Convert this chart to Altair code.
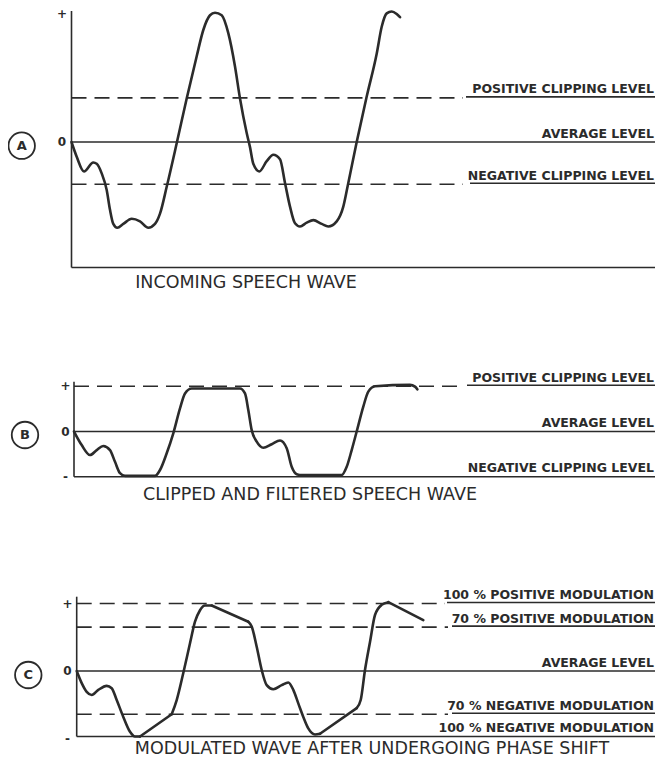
import altair as alt
import pandas as pd

# ---------------- data: time (t) and amplitude relative to the average level ----------------
# Panel A - incoming speech wave
a_t = [-0.25, 0.27, 1.0, 1.93, 2.27, 2.77, 3.27, 3.6, 3.93, 4.33, 4.93, 5.77, 6.6, 7.43, 8.1, 8.6,
       9.27, 10.27, 11.27, 12.27, 12.93, 13.6, 14.1, 14.77, 15.43, 16.1, 16.6, 17.27, 17.6, 17.93,
       18.53, 19.27, 19.93, 20.6, 21.1, 21.6, 22.1, 22.6, 23.27, 23.93, 24.77, 25.43, 26.27, 26.93,
       27.43, 28.27, 29.27, 30.27, 30.77, 31.27, 31.77, 32.27, 32.6]
a_amp = [0.0, -0.115, -0.23, -0.16, -0.17, -0.245, -0.375, -0.53, -0.64, -0.67, -0.64, -0.60, -0.62,
         -0.67, -0.64, -0.56, -0.35, -0.01, 0.34, 0.67, 0.875, 0.99, 1.01, 0.99, 0.85, 0.59, 0.34,
         0.07, -0.04, -0.17, -0.23, -0.15, -0.10, -0.135, -0.32, -0.505, -0.635, -0.66, -0.63,
         -0.61, -0.64, -0.66, -0.62, -0.505, -0.32, 0.0, 0.355, 0.69, 0.90, 1.005, 1.02, 1.0, 0.975]
a_straight = []

# Panel B - clipped and filtered speech wave
b_t = [0.0, 0.77, 1.6, 2.27, 2.93, 3.6, 4.1, 4.6, 5.1, 8.1, 8.6, 9.27, 9.93, 10.6, 11.1, 11.77,
       16.6, 17.1, 17.43, 17.77, 18.27, 18.93, 19.77, 20.6, 21.27, 21.77, 22.27, 22.6, 26.77,
       27.27, 27.77, 28.27, 28.93, 29.43, 30.1, 33.6, 34.1, 34.33]
b_amp = [0.0, -0.30, -0.52, -0.41, -0.32, -0.41, -0.67, -0.92, -0.98, -0.98, -0.85, -0.48, -0.04,
         0.51, 0.84, 0.95, 0.95, 0.84, 0.475, 0.03, -0.225, -0.36, -0.28, -0.20, -0.37, -0.78,
         -0.945, -0.96, -0.96, -0.78, -0.41, 0.0, 0.55, 0.88, 1.0, 1.03, 0.99, 0.93]
b_straight = []

# Panel C - modulated wave after undergoing phase shift
c_t = [0.27, 0.77, 1.27, 1.77, 2.43, 3.27, 3.77, 4.27, 4.93, 5.6, 6.1, 6.6, 9.77, 10.27, 10.93,
       11.6, 12.1, 12.6, 13.1, 13.77, 17.43, 17.77, 18.27, 18.77, 19.27, 19.93, 20.77, 21.43,
       21.93, 22.43, 22.93, 23.43, 24.1, 24.6, 28.27, 28.67, 29.1, 29.6, 30.1, 30.77, 31.43, 34.93]
c_amp = [0.0, -0.18, -0.31, -0.355, -0.28, -0.22, -0.255, -0.43, -0.68, -0.90, -0.97, -0.97, -0.64,
         -0.43, -0.03, 0.41, 0.73, 0.90, 0.97, 0.97, 0.73, 0.66, 0.36, 0.015, -0.21, -0.27, -0.21,
         -0.17, -0.28, -0.48, -0.68, -0.85, -0.94, -0.93, -0.55, -0.43, 0.015, 0.43, 0.83, 0.98,
         1.02, 0.755]
# indices i where the stretch from point i to point i+1 is a straight line
c_straight = [11, 19, 33, 40]

# reference levels
a_levels = [0.345, 0.0, -0.33, -0.98]
a_level_labels = ["POSITIVE CLIPPING LEVEL", "AVERAGE LEVEL", "NEGATIVE CLIPPING LEVEL", ""]
a_level_dashed = [True, False, True, False]

b_levels = [1.0, 0.0, -1.0]
b_level_labels = ["POSITIVE CLIPPING LEVEL", "AVERAGE LEVEL", "NEGATIVE CLIPPING LEVEL"]
b_level_dashed = [True, False, False]

c_levels = [1.0, 0.65, 0.0, -0.64, -0.97]
c_level_labels = ["100 % POSITIVE MODULATION", "70 % POSITIVE MODULATION", "AVERAGE LEVEL",
                  "70 % NEGATIVE MODULATION", "100 % NEGATIVE MODULATION"]
c_level_dashed = [True, True, False, True, False]

panel_letters = ["A", "B", "C"]
panel_titles = ["INCOMING SPEECH WAVE", "CLIPPED AND FILTERED SPEECH WAVE",
                "MODULATED WAVE AFTER UNDERGOING PHASE SHIFT"]
a_signs = ["+", "0"]
a_sign_amps = [1.0, 0.0]
bc_signs = ["+", "0", "-"]
bc_sign_amps = [1.0, 0.0, -1.0]

# ---------------- layout (page pixels) ----------------
W, H = 649, 751
X_T0, PX_PER_T = 74.0, 10.0
LINE_END = 655.0
TEXT_RIGHT = 654.0
INK = "#2b2b2b"
FONT = "DejaVu Sans"

LAYOUT = {
    "A": dict(zero=142.0, unit=128.0, axis_x=71.5, axis_top=11.0, axis_bottom=267.5,
              sign_x=62.0, circle=(21.7, 145.7), title=(246.0, 288.0),
              dash_end=[463, None, 463, None], text_start=[466, None, 470, None]),
    "B": dict(zero=431.5, unit=45.3, axis_x=74.0, axis_top=381.7, axis_bottom=476.8,
              sign_x=65.5, circle=(25.0, 435.0), title=(310.0, 500.0),
              dash_end=[462, None, None], text_start=[467, None, None]),
    "C": dict(zero=671.0, unit=67.5, axis_x=76.7, axis_top=596.7, axis_bottom=736.5,
              sign_x=67.5, circle=(28.3, 675.0), title=(372.0, 754.0),
              dash_end=[445, 448, None, 448, None], text_start=[447, 452, None, 452, None]),
}

def px(t):
    return X_T0 + PX_PER_T * t

def py(panel, amp):
    L = LAYOUT[panel]
    return L["zero"] - L["unit"] * amp

# ---------------- build tables ----------------
curve_rows, straight_rows = [], []
for panel, ts, amps, straight in [("A", a_t, a_amp, a_straight), ("B", b_t, b_amp, b_straight),
                                  ("C", c_t, c_amp, c_straight)]:
    seg = 0
    for i, (t, a) in enumerate(zip(ts, amps)):
        curve_rows.append(dict(seg=f"{panel}{seg}", i=i, x=px(t), y=py(panel, a)))
        if i in straight:
            seg += 1
            # the straight stretch i -> i+1
            straight_rows.append(dict(seg=f"{panel}s{i}", i=0, x=px(t), y=py(panel, a)))
            straight_rows.append(dict(seg=f"{panel}s{i}", i=1, x=px(ts[i + 1]),
                                      y=py(panel, amps[i + 1])))
# drop single-point curve runs
curves = pd.DataFrame(curve_rows)
counts = curves.groupby("seg")["i"].transform("count")
curves = curves[counts > 1]
straights = pd.DataFrame(straight_rows)

solid_rows, dash_rows, label_rows, sign_rows = [], [], [], []
for panel, levels, labels, dashed in [("A", a_levels, a_level_labels, a_level_dashed),
                                      ("B", b_levels, b_level_labels, b_level_dashed),
                                      ("C", c_levels, c_level_labels, c_level_dashed)]:
    L = LAYOUT[panel]
    for k, (lv, lab, d) in enumerate(zip(levels, labels, dashed)):
        yy = py(panel, lv)
        if d:
            dash_rows.append(dict(x=L["axis_x"], x2=L["dash_end"][k], y=yy))
            solid_rows.append(dict(x=L["text_start"][k], x2=LINE_END, y=yy - 1, y2=yy - 1))
        else:
            solid_rows.append(dict(x=L["axis_x"], x2=LINE_END, y=yy, y2=yy))
        if lab:
            label_rows.append(dict(x=TEXT_RIGHT, y=yy - 4.5, text=lab))
    solid_rows.append(dict(x=L["axis_x"], x2=L["axis_x"], y=L["axis_top"], y2=L["axis_bottom"]))
    signs, samps = (a_signs, a_sign_amps) if panel == "A" else (bc_signs, bc_sign_amps)
    for s, sa in zip(signs, samps):
        sign_rows.append(dict(x=L["sign_x"], y=py(panel, sa), text=s))

solid = pd.DataFrame(solid_rows)
dashes = pd.DataFrame(dash_rows)
labels_df = pd.DataFrame(label_rows)
signs_df = pd.DataFrame(sign_rows)
circles_df = pd.DataFrame([dict(x=LAYOUT[p]["circle"][0], y=LAYOUT[p]["circle"][1], text=p)
                           for p in panel_letters])
titles_df = pd.DataFrame([dict(x=LAYOUT[p]["title"][0], y=LAYOUT[p]["title"][1], text=t)
                          for p, t in zip(panel_letters, panel_titles)])

# ---------------- chart ----------------
xs = alt.Scale(domain=[8, 8 + W], nice=False, zero=False)
ys = alt.Scale(domain=[8, 8 + H], nice=False, zero=False, reverse=True)
X = lambda f="x": alt.X(f"{f}:Q", scale=xs, axis=None)
Y = lambda f="y": alt.Y(f"{f}:Q", scale=ys, axis=None)

solid_layer = alt.Chart(solid).mark_rule(color=INK, strokeWidth=1.6).encode(
    x=X(), x2="x2:Q", y=Y(), y2="y2:Q")
dash_layer = alt.Chart(dashes).mark_rule(color=INK, strokeWidth=1.6, strokeDash=[15, 8]).encode(
    x=X(), x2="x2:Q", y=Y())
curve_layer = alt.Chart(curves).mark_line(color=INK, strokeWidth=2.6, interpolate="monotone",
                                          strokeJoin="round", strokeCap="round").encode(
    x=X(), y=Y(), detail="seg:N", order="i:Q")
straight_layer = alt.Chart(straights).mark_line(color=INK, strokeWidth=2.6, interpolate="linear",
                                                strokeCap="round").encode(
    x=X(), y=Y(), detail="seg:N", order="i:Q")
label_layer = alt.Chart(labels_df).mark_text(align="right", baseline="alphabetic", font=FONT,
                                             fontSize=12.5, fontWeight="bold", color=INK).encode(
    x=X(), y=Y(), text="text:N")
sign_layer = alt.Chart(signs_df).mark_text(align="center", baseline="middle", font=FONT,
                                           fontSize=12, fontWeight="bold", color=INK).encode(
    x=X(), y=Y(), text="text:N")
circle_layer = alt.Chart(circles_df).mark_point(shape="circle", size=700, filled=False,
                                                strokeWidth=1.8, color=INK, opacity=1).encode(
    x=X(), y=Y())
letter_layer = alt.Chart(circles_df).mark_text(align="center", baseline="middle", font=FONT,
                                               fontSize=13, fontWeight="bold", color=INK).encode(
    x=X(), y=Y(), text="text:N")
title_layer = alt.Chart(titles_df).mark_text(align="center", baseline="alphabetic", font=FONT,
                                             fontSize=17.5, color=INK).encode(
    x=X(), y=Y(), text="text:N")

chart = alt.layer(solid_layer, dash_layer, curve_layer, straight_layer, label_layer, sign_layer,
                  circle_layer, letter_layer, title_layer).properties(
    width=W, height=H, autosize=alt.AutoSizeParams(type="none"), padding=0,
    background="white",
).configure_view(stroke=None)

chart.save("out.html", embed_options={"renderer": "svg", "actions": False})
